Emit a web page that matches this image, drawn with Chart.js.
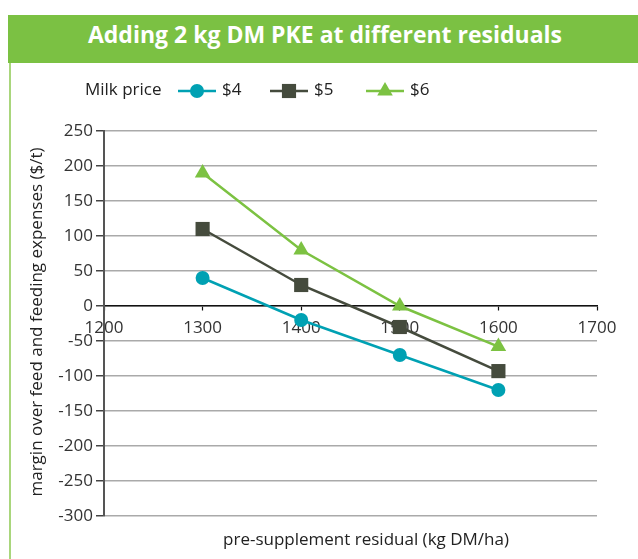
<!DOCTYPE html>
<html>
<head>
<meta charset="utf-8">
<script src="https://cdn.jsdelivr.net/npm/chart.js@4.4.1/dist/chart.umd.min.js"></script>
<style>
  html, body { margin: 0; padding: 0; background: #fff; }
  #wrap { position: relative; width: 638px; height: 559px; overflow: hidden; }
  #titlebar { position: absolute; left: 8px; top: 15px; width: 630px; height: 48px; background: #7bc143;
    color: #fff; font-family: 'Open Sans', 'Noto Sans', sans-serif; font-weight: 700; font-size: 23px;
    line-height: 38px; text-align: center; box-sizing: border-box; padding-left: 4px; }
  #leftbar { position: absolute; left: 9px; top: 63px; width: 2px; height: 496px; background: #a9d67c; }
  #c { position: absolute; left: 0; top: 0; }
</style>
</head>
<body>
<div id="wrap">
  <div id="titlebar">Adding 2 kg DM PKE at different residuals</div>
  <div id="leftbar"></div>
  <canvas id="c" width="638" height="559"></canvas>
</div>
<script>
const categories = [1300, 1400, 1500, 1600];
const seriesNames = ['$4', '$5', '$6'];
const price4 = [40, -20, -70, -120];
const price5 = [110, 30, -30, -93];
const price6 = [190, 80, 0, -58];
const xTicks = [1200, 1300, 1400, 1500, 1600, 1700];
const yTicks = [-300, -250, -200, -150, -100, -50, 0, 50, 100, 150, 200, 250];

const FONT = "'Open Sans', 'Noto Sans', sans-serif";
Chart.defaults.font.family = FONT;
Chart.defaults.color = '#333';

const colors = ['#00a1b3', '#454b3d', '#7cc242'];
const styles = ['circle', 'rect', 'triangle'];
const radii = [7, 10, 9];
const values = [price4, price5, price6];

const datasets = values.map((v, i) => ({
  label: seriesNames[i],
  data: categories.map((c, j) => ({x: c, y: v[j]})),
  borderColor: colors[i],
  backgroundColor: colors[i],
  borderWidth: 2.5,
  pointStyle: styles[i],
  pointRadius: radii[i],
  pointHoverRadius: radii[i],
  pointBorderWidth: 0,
  tension: 0,
  clip: false
}));

const legendPos = [178, 270, 366];
const customText = {
  id: 'customText',
  afterDraw(chart) {
    const ctx = chart.ctx;
    ctx.save();
    ctx.fillStyle = '#222';
    ctx.font = '17px ' + FONT;
    ctx.textBaseline = 'middle';
    ctx.textAlign = 'left';
    ctx.fillText('Milk price', 85, 90);
    chart.data.datasets.forEach((ds, i) => {
      const x0 = legendPos[i];
      ctx.strokeStyle = ds.borderColor;
      ctx.lineWidth = 2.5;
      ctx.beginPath();
      ctx.moveTo(x0, 91);
      ctx.lineTo(x0 + 38, 91);
      ctx.stroke();
      ctx.fillStyle = ds.backgroundColor;
      Chart.helpers.drawPoint(ctx, {pointStyle: ds.pointStyle, radius: ds.pointRadius, borderWidth: 0, rotation: 0}, x0 + 19, 91);
      ctx.fillStyle = '#222';
      ctx.fillText(ds.label, x0 + 44, 90);
    });
    // axis titles
    ctx.font = '17px ' + FONT;
    ctx.textAlign = 'center';
    ctx.fillText('pre-supplement residual (kg DM/ha)', 366, 540);
    ctx.translate(37, 322);
    ctx.rotate(-Math.PI / 2);
    ctx.fillText('margin over feed and feeding expenses ($/t)', 0, 0);
    ctx.restore();
  }
};

new Chart(document.getElementById('c'), {
  type: 'line',
  data: { datasets },
  options: {
    responsive: false,
    animation: false,
    layout: { padding: { left: 0, right: 41, top: 131, bottom: 43 } },
    plugins: { legend: { display: false }, tooltip: { enabled: false }, title: { display: false } },
    scales: {
      x: {
        type: 'linear',
        position: { y: 0 },
        min: 1200, max: 1700,
        afterBuildTicks: (s) => { s.ticks = xTicks.map(v => ({value: v})); },
        afterFit: (s) => { s.height = 0; },
        ticks: { font: { size: 17 }, color: '#333', padding: 8, maxRotation: 0, callback: (v) => String(v) },
        grid: { drawOnChartArea: false, drawTicks: true, tickLength: 4, tickColor: '#111', tickWidth: 1.2 },
        border: { display: true, color: '#111', width: 1.5 }
      },
      y: {
        type: 'linear',
        min: -300, max: 250,
        afterBuildTicks: (s) => { s.ticks = yTicks.map(v => ({value: v})); },
        afterFit: (s) => { s.width = 104; },
        ticks: { font: { size: 17 }, color: '#333', padding: 3, callback: (v) => String(v) },
        grid: { color: '#aaaaaa', lineWidth: 1.5, drawTicks: true, tickLength: 8, tickColor: '#444', tickWidth: 1.5 },
        border: { display: true, color: '#555', width: 2 }
      }
    }
  },
  plugins: [customText]
});
</script>
</body>
</html>
